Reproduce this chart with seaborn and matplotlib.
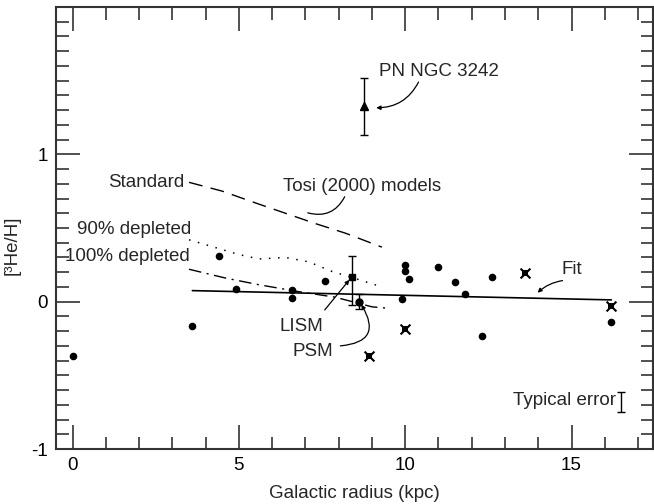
import numpy as np
import matplotlib.pyplot as plt
import seaborn as sns
from matplotlib.ticker import MultipleLocator

# HII region measurements
r_dots = [0.0, 3.6, 4.4, 4.9, 6.6, 6.6, 7.6, 9.9, 10.0, 10.0, 10.1, 11.0, 11.5, 11.8, 12.3, 12.6, 16.2]
he_dots = [-0.37, -0.165, 0.31, 0.085, 0.08, 0.023, 0.14, 0.018, 0.25, 0.205, 0.152, 0.234, 0.136, 0.052, -0.233, 0.166, -0.136]

# flagged measurements (crossed squares)
r_cross = [8.9, 10.0, 13.6, 16.2]
he_cross = [-0.37, -0.186, 0.193, -0.029]

# LISM, PSM, planetary nebula
lism_r, lism_he, lism_lo, lism_hi = 8.4, 0.166, 0.19, 0.147
psm_r, psm_he, psm_err = 8.6, 0.0, 0.053
pn_r, pn_he, pn_lo, pn_hi = 8.75, 1.33, 0.2, 0.19

# Tosi (2000) models
std_r = [3.5, 4.5, 5.5, 6.4, 7.3, 8.2, 9.3]
std_he = [0.81, 0.75, 0.67, 0.60, 0.53, 0.465, 0.37]
d90_r = [3.5, 4.1, 5.0, 5.6, 6.4, 7.1, 7.8, 8.6, 9.3]
d90_he = [0.42, 0.38, 0.32, 0.29, 0.30, 0.27, 0.205, 0.15, 0.10]
d100_r = [3.5, 4.6, 5.6, 6.8, 7.9, 9.0, 9.5]
d100_he = [0.22, 0.16, 0.115, 0.068, 0.03, -0.035, -0.045]

# fit
fit_r = [3.6, 16.2]
fit_he = [0.075, 0.012]

sns.set_theme(style="ticks")
plt.rcParams['font.family'] = ['Liberation Sans', 'DejaVu Sans']

fig = plt.figure(figsize=(6.54, 5.04), dpi=100)
ax = fig.add_axes([56/654, 1-449/504, 597/654, 442/504])

ink = "black"
sns.lineplot(x=std_r, y=std_he, ax=ax, color=ink, lw=1.0, sort=False)
ax.lines[-1].set_dashes([10, 6])
sns.lineplot(x=d90_r, y=d90_he, ax=ax, color=ink, lw=1.1, sort=False)
ax.lines[-1].set_dashes([1, 5])
sns.lineplot(x=d100_r, y=d100_he, ax=ax, color=ink, lw=1.0, sort=False)
ax.lines[-1].set_dashes([9, 4, 1.5, 4])
sns.lineplot(x=fit_r, y=fit_he, ax=ax, color=ink, lw=1.2)

sns.scatterplot(x=r_dots, y=he_dots, ax=ax, color=ink, s=30, edgecolor=ink, linewidth=0)
sns.scatterplot(x=r_cross, y=he_cross, ax=ax, color=ink, marker='s', s=16, linewidth=0)
sns.scatterplot(x=r_cross, y=he_cross, ax=ax, color=ink, marker='x', s=50, linewidth=1.5)

ax.errorbar([lism_r], [lism_he], yerr=[[lism_lo], [lism_hi]], fmt='s', ms=5, color=ink,
            elinewidth=1.0, capsize=3, capthick=1.0)
ax.errorbar([psm_r], [psm_he], yerr=psm_err, fmt='o', ms=5, color=ink,
            elinewidth=1.0, capsize=3, capthick=1.0)
ax.errorbar([pn_r], [pn_he], yerr=[[pn_lo], [pn_hi]], fmt='^', ms=5.5, color=ink,
            elinewidth=1.0, capsize=3, capthick=1.0)
# typical error bar
ax.errorbar([16.48], [-0.68], yerr=0.068, fmt='none', color=ink, elinewidth=1.0,
            capsize=3, capthick=1.0)

fs = 13.5
arrow = dict(arrowstyle='-|>', color=ink, lw=0.9, mutation_scale=6, shrinkA=0, shrinkB=0)
ax.text(9.2, 1.565, "PN NGC 3242", fontsize=fs, va='center', ha='left')
ax.annotate("", xy=(9.13, 1.316), xytext=(10.4, 1.49),
            arrowprops=dict(arrow, connectionstyle="arc3,rad=-0.3"))
ax.text(3.35, 0.81, "Standard", fontsize=fs, ha='right', va='center')
ax.text(6.32, 0.78, "Tosi (2000) models", fontsize=fs, ha='left', va='center')
ax.annotate("", xy=(7.07, 0.603), xytext=(8.18, 0.712),
            arrowprops=dict(arrowstyle='-', color=ink, lw=0.9,
                            connectionstyle="arc3,rad=-0.4", shrinkA=0, shrinkB=0))
ax.text(0.13, 0.488, "90% depleted", fontsize=fs, ha='left', va='center')
ax.text(-0.23, 0.306, "100% depleted", fontsize=fs, ha='left', va='center')
ax.text(6.22, -0.17, "LISM", fontsize=fs, ha='left', va='center')
ax.annotate("", xy=(8.32, 0.148), xytext=(7.58, -0.056), arrowprops=arrow)
ax.text(6.62, -0.34, "PSM", fontsize=fs, ha='left', va='center')
ax.annotate("", xy=(8.68, -0.02), xytext=(8.05, -0.30),
            arrowprops=dict(arrow, connectionstyle="arc3,rad=0.8"))
ax.text(14.69, 0.22, "Fit", fontsize=fs, ha='left', va='center')
ax.annotate("", xy=(13.98, 0.061), xytext=(14.73, 0.143),
            arrowprops=dict(arrow, connectionstyle="arc3,rad=0.15"))
ax.text(16.35, -0.673, "Typical error", fontsize=fs, ha='right', va='center')

ax.set_xlim(-0.5, 17.45)
ax.set_ylim(-1, 2)
ax.xaxis.set_major_locator(MultipleLocator(5))
ax.xaxis.set_minor_locator(MultipleLocator(1))
ax.yaxis.set_minor_locator(MultipleLocator(0.1))
ax.set_yticks([-1, 0, 1])
ax.set_yticklabels(["-1", "0", "1"])
ax.tick_params(which='both', direction='in', top=True, right=True, colors='#333333',
               labelcolor=ink, labelsize=fs, width=1.2)
ax.tick_params(which='major', length=17, pad=6)
ax.tick_params(which='minor', length=9)
for sp in ax.spines.values():
    sp.set_visible(True)
    sp.set_linewidth(1.5)
    sp.set_color('#333333')

ax.set_xlabel("Galactic radius (kpc)", fontsize=fs, labelpad=8)
ax.set_ylabel("[³He/H]", fontsize=fs, va='center')
ax.yaxis.set_label_coords(-0.074, 0.46)

fig.savefig("out.png", dpi=100)
